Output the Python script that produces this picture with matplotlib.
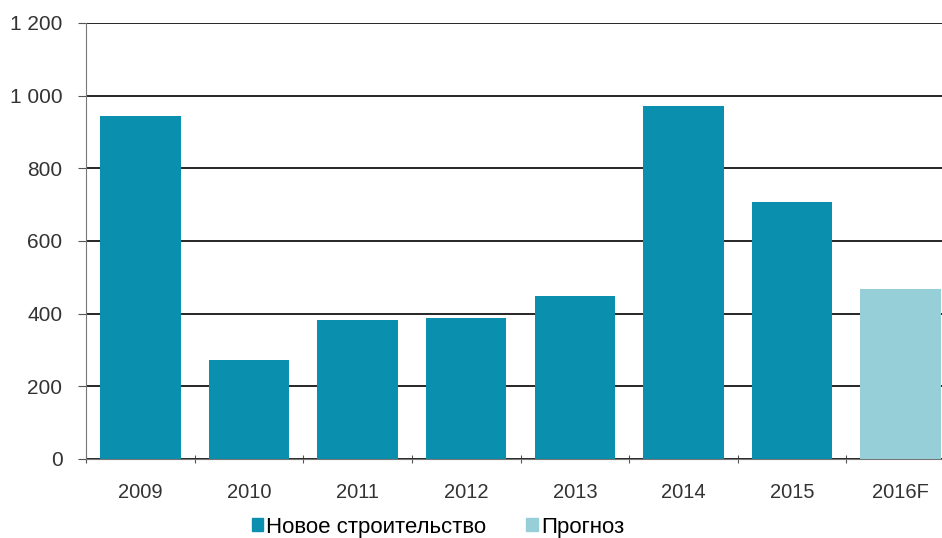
import matplotlib.pyplot as plt
from matplotlib.patches import Patch

anos = ['2009', '2010', '2011', '2012', '2013', '2014', '2015', '2016F']
valores = [945, 273, 383, 388, 448, 972, 708, 468]
prognoz = [False, False, False, False, False, False, False, True]

cor_fato = '#0a8fae'
cor_prognoz = '#97cfd9'

plt.rcParams['font.family'] = ['Liberation Sans', 'DejaVu Sans']

fig = plt.figure(figsize=(9.42, 5.38), dpi=100)
ax = fig.add_axes([86 / 942, 79 / 538, 869 / 942, 436 / 538])

x = range(len(anos))
cores = [cor_prognoz if p else cor_fato for p in prognoz]
ax.bar(x, valores, width=0.74, color=cores, zorder=3)

ax.set_ylim(0, 1200)
ax.set_xlim(-0.5, len(anos) - 0.5)
ax.set_yticks(range(0, 1201, 200))
ax.set_yticklabels([f'{v:,}'.replace(',', ' ') for v in range(0, 1201, 200)],
                   fontsize=15, color='#333333')
ax.yaxis.grid(True, color='#151515', linewidth=1.3, zorder=1)

# marcas principais entre as categorias, rótulos nas menores
ax.set_xticks([i + 0.5 for i in range(-1, len(anos))])
ax.set_xticklabels([])
ax.set_xticks(list(x), minor=True)
ax.set_xticklabels(anos, minor=True, fontsize=14.5, color='#333333')
ax.tick_params(axis='x', which='minor', length=0, pad=17)
ax.tick_params(axis='x', which='major', length=6, direction='inout', color='#555555')
ax.tick_params(axis='y', length=6, direction='out', color='#555555', pad=11)

for lado in ['top', 'right']:
    ax.spines[lado].set_visible(False)
ax.spines['left'].set_color('#777777')
ax.spines['bottom'].set_color('#777777')
ax.spines['left'].set_zorder(4)
ax.spines['bottom'].set_zorder(4)

legenda = [Patch(color=cor_fato, label='Новое строительство'),
           Patch(color=cor_prognoz, label='Прогноз')]
fig.legend(handles=legenda, loc='center', bbox_to_anchor=(438 / 942, 1 - 527 / 538),
           ncol=2, frameon=False, fontsize=16, handlelength=0.5, handleheight=0.5,
           handletextpad=0.15, columnspacing=1.8, borderaxespad=0, borderpad=0)

fig.savefig('out.png', dpi=100)
